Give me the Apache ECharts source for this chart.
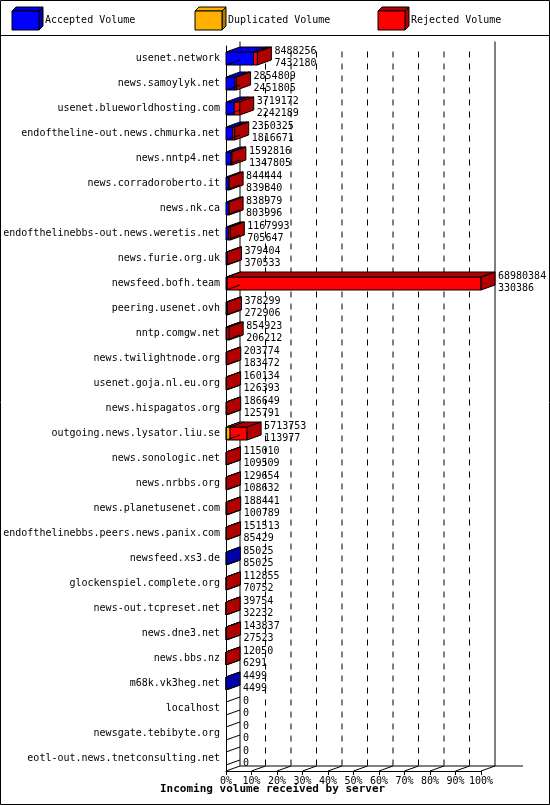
<!DOCTYPE html>
<html><head><meta charset="utf-8">
<script src="https://cdn.jsdelivr.net/npm/echarts@6/dist/echarts.min.js"></script>
<style>html,body{margin:0;padding:0;background:#fff}#c{width:550px;height:805px;box-sizing:border-box}</style>
</head><body><div id="c"></div>
<script>
const servers = ["usenet.network","news.samoylyk.net","usenet.blueworldhosting.com","endoftheline-out.news.chmurka.net","news.nntp4.net","news.corradoroberto.it","news.nk.ca","endofthelinebbs-out.news.weretis.net","news.furie.org.uk","newsfeed.bofh.team","peering.usenet.ovh","nntp.comgw.net","news.twilightnode.org","usenet.goja.nl.eu.org","news.hispagatos.org","outgoing.news.lysator.liu.se","news.sonologic.net","news.nrbbs.org","news.planetusenet.com","endofthelinebbs.peers.news.panix.com","newsfeed.xs3.de","glockenspiel.complete.org","news-out.tcpreset.net","news.dne3.net","news.bbs.nz","m68k.vk3heg.net","localhost","newsgate.tebibyte.org","eotl-out.news.tnetconsulting.net"];
const totalVolume = [8488256,2854809,3719172,2350325,1592816,844444,838979,1167993,379404,68980384,378299,854923,203774,160134,186649,5713753,115010,129654,188441,151513,85025,112855,39754,143837,12050,4499,0,0,0];
const acceptedVolume = [7432180,2451805,2242189,1816671,1347805,839840,803996,705647,370533,330386,272906,206212,183472,126393,125791,113977,109509,108632,100789,85429,85025,70752,32232,27523,6291,4499,0,0,0];
const duplicatedVolume = [0,0,0,0,0,0,0,0,0,0,0,0,0,0,0,1000000,0,0,0,0,0,0,0,0,0,0,0,0,0];
const xTicks = [0,10,20,30,40,50,60,70,80,90,100];

const FONT = '"DejaVu Sans Mono", monospace';
const maxTotal = Math.max(...totalVolume);
const DX = 14, DY = 5, BH = 13;
const cols = [
  {front:'#0000ff', top:'#0000e0', side:'#0000a8'},
  {front:'#ffb000', top:'#ffb000', side:'#b07c00'},
  {front:'#ff0000', top:'#b00000', side:'#b00000'}
];
const rows = servers.map((s,i)=>[i]);

function renderBar(params, api){
  const i = api.value(0);
  const tot = totalVolume[i], acc = acceptedVolume[i], dup = duplicatedVolume[i];
  const segs = [acc, dup, Math.max(0, tot-acc-dup)];
  const c = api.coord([0, i]);
  const yt = c[1]-BH/2, yb = c[1]+BH/2;
  const ch = [];
  const st = {stroke:'#000', lineWidth:1};
  let cum = 0, xe = c[0], last = -1;
  segs.forEach((v,k)=>{
    if (v<=0) return;
    const xs = api.coord([cum/maxTotal*100, i])[0];
    cum += v;
    xe = api.coord([cum/maxTotal*100, i])[0];
    ch.push({type:'rect', shape:{x:xs,y:yt,width:xe-xs,height:BH}, style:{fill:cols[k].front, stroke:'#000', lineWidth:1}});
    ch.push({type:'polygon', shape:{points:[[xs,yt],[xs+DX,yt-DY],[xe+DX,yt-DY],[xe,yt]]}, style:{fill:cols[k].top, stroke:'#000', lineWidth:1}});
    last = k;
  });
  if (last>=0) {
    ch.push({type:'polygon', shape:{points:[[xe,yt],[xe+DX,yt-DY],[xe+DX,yb-DY],[xe,yb]]}, style:{fill:cols[last].side, stroke:'#000', lineWidth:1}});
  } else {
    ch.push({type:'line', shape:{x1:c[0],y1:yt,x2:c[0]+DX,y2:yt-DY}, style:st});
  }
  ch.push({type:'line', shape:{x1:c[0],y1:yb,x2:c[0]+DX,y2:yb-DY}, style:st});
  ch.push({type:'text', style:{x:xe+DX+3, y:c[1]-7, text:String(tot), font:'10px '+FONT, fill:'#000', verticalAlign:'middle'}});
  ch.push({type:'text', style:{x:xe+DX+3, y:c[1]+5, text:String(acc), font:'10px '+FONT, fill:'#000', verticalAlign:'middle'}});
  return {type:'group', children:ch};
}

function renderWalls(params, api){
  const ch = [];
  const top = api.coord([0, 0])[1] - 17;
  const floor = api.coord([0, servers.length-1])[1] + 12.5;
  xTicks.forEach((t,k)=>{
    const x = api.coord([t, 0])[0];
    if (k===0 || k===xTicks.length-1) {
      ch.push({type:'line', shape:{x1:x+DX,y1:top,x2:x+DX,y2:floor-DY}, style:{stroke:'#000', lineWidth:1}});
    } else {
      ch.push({type:'line', shape:{x1:x+DX,y1:top+10,x2:x+DX,y2:floor-DY}, style:{stroke:'#000', lineWidth:1, lineDash:[6,6]}});
    }
    ch.push({type:'line', shape:{x1:x,y1:floor,x2:x+DX,y2:floor-DY}, style:{stroke:'#000', lineWidth:1}});
  });
  const x0 = api.coord([0,0])[0], x1 = api.coord([100,0])[0];
  ch.push({type:'line', shape:{x1:x0+DX,y1:floor-DY,x2:x1+DX+28,y2:floor-DY}, style:{stroke:'#000', lineWidth:1}});
  return {type:'group', silent:true, children:ch};
}

function legendBox(x, c, label){
  return [
    {type:'polygon', shape:{points:[[x,11],[x+4,7],[x+31,7],[x+27,11]]}, style:{fill:c.top, stroke:'#000'}},
    {type:'polygon', shape:{points:[[x+27,11],[x+31,7],[x+31,26],[x+27,30]]}, style:{fill:c.side, stroke:'#000'}},
    {type:'rect', shape:{x:x,y:11,width:27,height:19}, style:{fill:c.front, stroke:'#000'}},
    {type:'text', style:{x:x+33, y:20, text:label, font:'10px '+FONT, fill:'#000', verticalAlign:'middle'}}
  ];
}

const chart = echarts.init(document.getElementById('c'));
chart.setOption({
  animation:false,
  backgroundColor:'#fff',
  grid:{left:226, right:69, top:46, bottom:34},
  title:{text:'Incoming volume received by server', left:155, bottom:5,
    textStyle:{fontFamily:FONT, fontSize:11, fontWeight:'bold', color:'#000'}},
  xAxis:{type:'value', min:0, max:100, interval:10,
    axisLine:{show:true, lineStyle:{color:'#000'}}, axisTick:{show:true, length:4, lineStyle:{color:'#000'}},
    splitLine:{show:false},
    axisLabel:{formatter:v=>v+'%', fontFamily:FONT, fontSize:10, color:'#000', margin:5}},
  yAxis:{type:'category', data:servers, inverse:true,
    axisLine:{show:true, lineStyle:{color:'#000'}}, axisTick:{show:false},
    axisLabel:{fontFamily:FONT, fontSize:10, color:'#000', margin:6}},
  graphic:[
    {type:'rect', shape:{x:0.5,y:0.5,width:549,height:804}, style:{fill:null, stroke:'#000', lineWidth:1}, z:100},
    {type:'line', shape:{x1:0,y1:35.5,x2:550,y2:35.5}, style:{stroke:'#000', lineWidth:1}},
    ...legendBox(12, cols[0], 'Accepted Volume'),
    ...legendBox(195, cols[1], 'Duplicated Volume'),
    ...legendBox(378, cols[2], 'Rejected Volume')
  ],
  series:[
    {type:'custom', data:[[0]], renderItem:renderWalls, z:1, silent:true},
    {type:'custom', data:rows, encode:{y:0}, renderItem:renderBar, z:5, clip:false}
  ]
});
</script></body></html>
